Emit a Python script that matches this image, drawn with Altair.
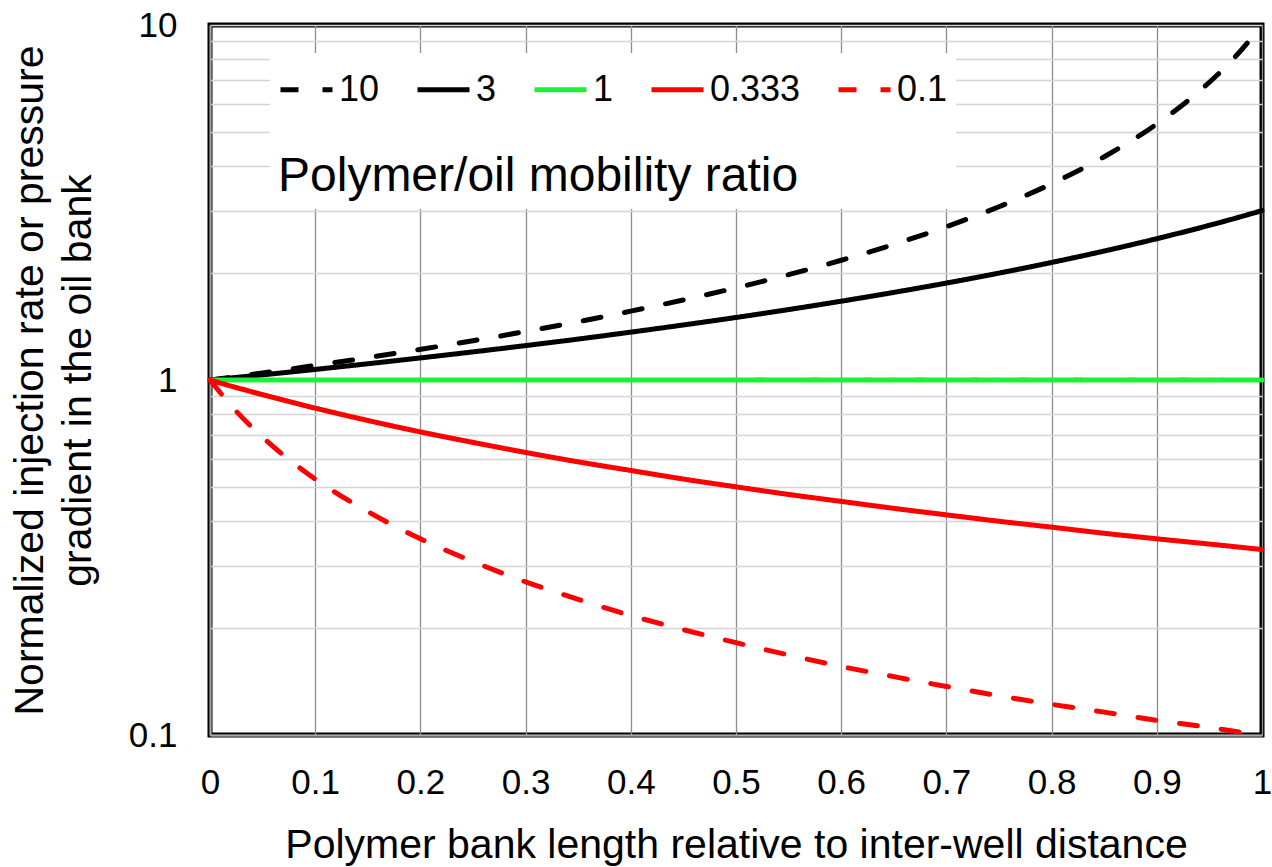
import altair as alt
import pandas as pd

# bank length (fraction of inter-well distance)
x_vals = [0, 0.025, 0.05, 0.1, 0.15, 0.2, 0.25, 0.3, 0.35, 0.4, 0.45, 0.5,
          0.55, 0.6, 0.65, 0.7, 0.75, 0.8, 0.85, 0.9, 0.95, 0.975, 1]

series_names = ["10", "3", "1", "0.333", "0.1"]
series_colors = ["#000000", "#000000", "#1ef03a", "#ff0000", "#ff0000"]

m10 = [1, 1.023, 1.047, 1.099, 1.156, 1.220, 1.290, 1.370, 1.460, 1.563, 1.681, 1.818,
       1.980, 2.174, 2.410, 2.703, 3.077, 3.571, 4.255, 5.263, 6.897, 8.163, 10]
m3 = [1, 1.017, 1.034, 1.071, 1.111, 1.154, 1.200, 1.250, 1.304, 1.364, 1.429, 1.500,
      1.579, 1.667, 1.765, 1.875, 2.000, 2.143, 2.308, 2.500, 2.727, 2.857, 3.0]
m1 = [1, 1, 1, 1, 1, 1, 1, 1, 1, 1, 1, 1,
      1, 1, 1, 1, 1, 1, 1, 1, 1, 1, 1]
m0333 = [1, 0.952, 0.909, 0.833, 0.769, 0.714, 0.667, 0.625, 0.588, 0.556, 0.526, 0.500,
         0.476, 0.455, 0.435, 0.417, 0.400, 0.385, 0.370, 0.357, 0.345, 0.339, 0.333]
m01 = [1, 0.816, 0.690, 0.526, 0.426, 0.357, 0.308, 0.270, 0.241, 0.217, 0.198, 0.182,
       0.168, 0.156, 0.146, 0.137, 0.129, 0.122, 0.116, 0.110, 0.105, 0.1023, 0.100]

x_ticks = [0, 0.1, 0.2, 0.3, 0.4, 0.5, 0.6, 0.7, 0.8, 0.9, 1]
y_ticks = [0.1, 0.2, 0.3, 0.4, 0.5, 0.6, 0.7, 0.8, 0.9, 1,
           2, 3, 4, 5, 6, 7, 8, 9, 10]

rows = []
for order, (name, ys) in enumerate(zip(series_names, [m10, m3, m1, m0333, m01])):
    for xv, yv in zip(x_vals, ys):
        rows.append({"x": xv, "y": yv, "ratio": name, "ord": order})
df = pd.DataFrame(rows)

FONT = "Liberation Sans"

legend = alt.Legend(
    orient="none", legendX=60, legendY=28, direction="horizontal",
    fillColor="white", padding=8, symbolType="stroke", symbolSize=2704,
    symbolStrokeWidth=5, labelFontSize=36, labelFont=FONT, labelColor="black",
    labelOffset=4, titleOrient="bottom", titleFontSize=48, titleFont=FONT,
    titleFontWeight="normal", titleColor="black", titlePadding=45,
    columnPadding=27, title="Polymer/oil mobility ratio", titleAnchor="start",
    labelLimit=0, titleLimit=0,
)

chart = alt.Chart(df).mark_line(strokeWidth=5, strokeCap="round", interpolate="monotone").encode(
    x=alt.X("x:Q", scale=alt.Scale(domain=[0, 1], nice=False),
            axis=alt.Axis(values=x_ticks, format="~g", title="Polymer bank length relative to inter-well distance",
                          grid=True, gridColor="#8c8c8c", gridWidth=1.3, ticks=False,
                          domain=True, domainColor="#a8a8a8", domainWidth=2,
                          labelFontSize=35, labelFont=FONT, labelColor="black",
                          labelPadding=30, labelFlush=False, titleFontSize=41, titleFont=FONT,
                          titleFontWeight="normal", titleColor="black", titleBaseline="alphabetic",
                          titleY=122, labelOverlap=False)),
    y=alt.Y("y:Q", scale=alt.Scale(type="log", domain=[0.1, 10], nice=False),
            axis=alt.Axis(values=y_ticks,
                          labelExpr="datum.value == 0.1 || datum.value == 1 || datum.value == 10 ? format(datum.value, '~g') : ''",
                          title=["Normalized injection rate or pressure", "gradient in the oil bank"],
                          grid=True, gridColor="#d4d4d4", gridWidth=1.3, ticks=False,
                          domain=True, domainColor="#a8a8a8", domainWidth=2,
                          labelFontSize=35, labelFont=FONT, labelColor="black", labelPadding=33,
                          labelFlush=False, labelOverlap=False, titleFontSize=41, titleFont=FONT,
                          titleFontWeight="normal", titleColor="black", titleAngle=270,
                          titleBaseline="alphabetic", titleX=-168, titleY=355, titleAlign="center",
                          titleLineHeight=48)),
    color=alt.Color("ratio:N", scale=alt.Scale(domain=series_names, range=series_colors), legend=legend),
    strokeDash=alt.StrokeDash("ratio:N", scale=alt.Scale(domain=series_names,
                              range=[[18, 24], [1, 0], [1, 0], [1, 0], [18, 24]]), legend=legend),
    order="ord:Q",
).properties(
    width=1052, height=710,
    autosize=alt.AutoSizeParams(type="none"),
    padding={"left": 210, "top": 25, "right": 10, "bottom": 132},
).configure(
    background="white",
).configure_view(
    stroke="black", strokeWidth=5,
)

chart.save("out.html", embed_options={"renderer": "svg", "actions": False})
